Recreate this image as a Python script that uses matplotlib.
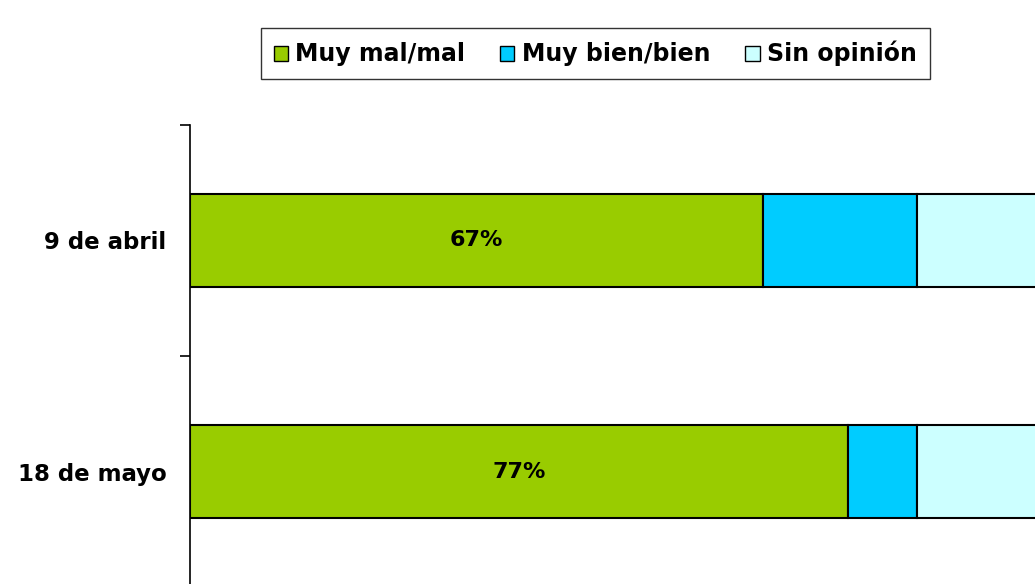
import matplotlib
matplotlib.use('Agg')
import matplotlib.pyplot as plt

plt.rcParams['font.family'] = ['DejaVu Sans']

fechas = ['9 de abril', '18 de mayo']
muy_mal = [67, 77]
muy_bien = [18, 8]
sin_opinion = [15, 15]

series = ['Muy mal/mal', 'Muy bien/bien', 'Sin opinión']
colores = ['#99CC00', '#00CCFF', '#CCFFFF']

fig = plt.figure(figsize=(10.35, 5.84), dpi=100)
ax = fig.add_axes([190 / 1035, -3 / 584, 855 / 1035, 462 / 584])

pos = [0.5, 1.5]
izq = [0, 0]
for vals, nombre, color in zip([muy_mal, muy_bien, sin_opinion], series, colores):
    ax.barh(pos, vals, left=izq, height=0.4, color=color, edgecolor='black',
            linewidth=1.5, label=nombre)
    izq = [a + b for a, b in zip(izq, vals)]

# porcentaje dentro de la barra verde
for p, v in zip(pos, muy_mal):
    ax.text(v / 2, p, f'{v}%', ha='center', va='center', fontsize=16, fontweight='bold')

ax.set_xlim(0, 100)
ax.set_ylim(2, 0)
ax.set_xticks([])
ax.set_yticks([0, 1, 2])
ax.set_yticklabels([])
ax.tick_params(axis='y', which='major', length=7, width=1.2)
ax.set_yticks(pos, minor=True)
ax.set_yticklabels(fechas, minor=True, fontsize=16.5, fontweight='bold')
ax.tick_params(axis='y', which='minor', length=0, pad=17)
for lado in ['top', 'right', 'bottom']:
    ax.spines[lado].set_visible(False)
ax.spines['left'].set_linewidth(1.2)

leg = fig.legend(loc='center', bbox_to_anchor=(0.575, 0.908), ncol=3,
                 prop={'size': 17, 'weight': 'bold'}, frameon=True, fancybox=False,
                 edgecolor='black', handlelength=0.6, handleheight=0.6,
                 handletextpad=0.3, columnspacing=1.5, borderpad=0.55)
leg.get_frame().set_linewidth(1.0)
for h in leg.legend_handles:
    h.set_linewidth(1.0)

fig.savefig('out.png', dpi=100)
